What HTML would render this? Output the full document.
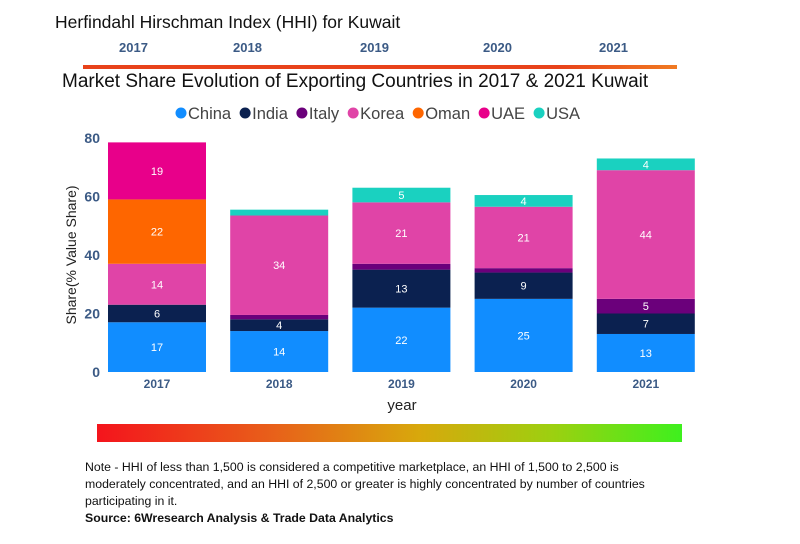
<!DOCTYPE html>
<html><head><meta charset="utf-8"><style>
body{margin:0;width:800px;height:544px;background:#fff;font-family:"Liberation Sans","DejaVu Sans",sans-serif;overflow:hidden;position:relative}
.a{position:absolute}
</style></head><body>
<div class="a" style="left:55px;top:12px;font-size:17.5px;color:#111">Herfindahl Hirschman Index (HHI) for Kuwait</div>
<div>
<div class="a" style="left:119px;top:40px;font-size:13px;font-weight:bold;color:#3b5a85">2017</div>
<div class="a" style="left:233px;top:40px;font-size:13px;font-weight:bold;color:#3b5a85">2018</div>
<div class="a" style="left:360px;top:40px;font-size:13px;font-weight:bold;color:#3b5a85">2019</div>
<div class="a" style="left:483px;top:40px;font-size:13px;font-weight:bold;color:#3b5a85">2020</div>
<div class="a" style="left:599px;top:40px;font-size:13px;font-weight:bold;color:#3b5a85">2021</div>
</div>
<div class="a" style="left:83px;top:65px;width:594px;height:4px;background:linear-gradient(90deg,#e8421a,#e8421a 80%,#f07a22)"></div>
<div class="a" style="left:62px;top:71px;font-size:19px;color:#111">Market Share Evolution of Exporting Countries in 2017 &amp; 2021 Kuwait</div>
<svg class="a" style="left:0;top:0" width="800" height="544" id="chart"></svg>
<div class="a" style="left:97px;top:424px;width:585px;height:18px;background:linear-gradient(90deg,#f4141c,#e8601a 30%,#d8a80c 55%,#9cd010 78%,#3ef01e)"></div>
<div class="a" style="left:85px;top:459px;width:585px;font-size:12.3px;line-height:17px;color:#111">Note - HHI of less than 1,500 is considered a competitive marketplace, an HHI of 1,500 to 2,500 is moderately concentrated, and an HHI of 2,500 or greater is highly concentrated by number of countries participating in it.<br><b>Source: 6Wresearch Analysis &amp; Trade Data Analytics</b></div>
<script>
const years=["2017","2018","2019","2020","2021"];
const series=["China","India","Italy","Korea","Oman","UAE","USA"];
const colors=["#118dff","#0b2150","#6b007b","#e044a7","#fe6600","#e8008a","#1ad1c0"];
const china=[17,14,22,25,13];
const india=[6,4,13,9,7];
const italy=[0,1.5,2,1.5,5];
const korea=[14,34,21,21,44];
const oman=[22,0,0,0,0];
const uae=[19.5,0,0,0,0];
const usa=[0,2,5,4,4];
const yTicks=[0,20,40,60,80];
const vals=[china,india,italy,korea,oman,uae,usa];
const NS="http://www.w3.org/2000/svg",svg=document.getElementById('chart');
const y=v=>372-v*2.925, x=i=>108+i*122.2, bw=98;
function mk(t,a){const e=document.createElementNS(NS,t);for(const k in a)e.setAttribute(k,a[k]);svg.appendChild(e);return e;}
let lx=175;
series.forEach((s,i)=>{
const c=mk('circle',{cx:lx+6,cy:113,r:5.5,fill:colors[i]});


const t=mk('text',{x:lx+13,y:119,'font-size':16.5,fill:'#444'});t.textContent=s;


lx+=13+t.getComputedTextLength()+8;
});
yTicks.forEach(v=>{const t=mk('text',{x:100,y:y(v)+5,'font-size':14,'font-weight':'bold',fill:'#3b5a85','text-anchor':'end'});t.textContent=v;

});
years.forEach((yr,i)=>{
let base=0;
vals.forEach((arr,s)=>{const v=arr[i];if(!v)return;
const r=mk('rect',{x:x(i),y:y(base+v),width:bw,height:v*2.925,fill:colors[s]});


if(v>=4){const t=mk('text',{x:x(i)+bw/2,y:y(base+v/2)+4,'font-size':11,fill:'#fff','text-anchor':'middle'});t.textContent=Math.floor(v);

}
base+=v;});
const t=mk('text',{x:x(i)+bw/2,y:388,'font-size':12,'font-weight':'bold',fill:'#3b5a85','text-anchor':'middle'});t.textContent=yr;


});
const xt=mk('text',{x:402,y:410,'font-size':15,fill:'#222','text-anchor':'middle'});xt.textContent='year';


const yt=mk('text',{x:0,y:0,'font-size':14,fill:'#222','text-anchor':'middle',transform:'translate(76,255) rotate(-90)'});yt.textContent='Share(% Value Share)';


</script>
</body></html>
